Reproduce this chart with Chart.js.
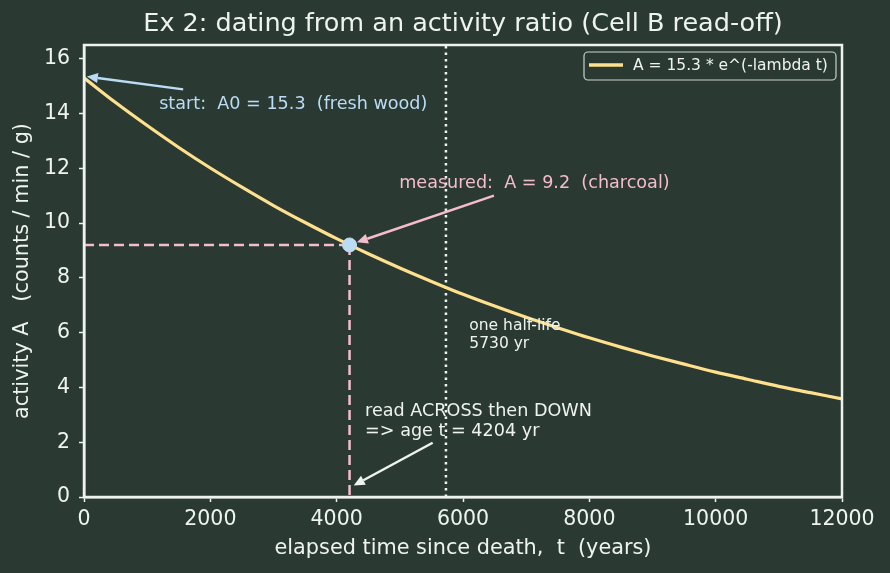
<!DOCTYPE html>
<html>
<head>
<meta charset="utf-8">
<script src="https://cdn.jsdelivr.net/npm/chart.js@4"></script>
<style>
  html,body{margin:0;padding:0;background:#2a3a33;}
  #wrap{width:890px;height:573px;}
</style>
</head>
<body>
<div id="wrap"><canvas id="grafico"></canvas></div>
<script>
// valores
let tiempos=[0,500,1000,1500,2000,2500,3000,3500,4000,4500,5000,5500,6000,6500,7000,7500,8000,8500,9000,9500,10000,10500,11000,11500,12000]
let actividad=[15.30,14.40,13.56,12.76,12.01,11.31,10.64,10.02,9.43,8.88,8.36,7.87,7.40,6.97,6.56,6.18,5.81,5.47,5.15,4.85,4.56,4.30,4.04,3.81,3.58]
let medido=[4204,9.2]
let vidaMedia=5730
let xTicks=[0,2000,4000,6000,8000,10000,12000]
let yTicks=[0,2,4,6,8,10,12,14,16]
let etiquetaCurva='A = 15.3 * e^(-lambda t)'
let titulo='Ex 2: dating from an activity ratio (Cell B read-off)'

let fondo='#2a3a33', blanco='#eef3ee', amarillo='#ffe08c', azul='#bcdcf4', rosa='#f4bccc'
let fuente='"DejaVu Sans", sans-serif'

let curva=tiempos.map((t,j)=>({x:t,y:actividad[j]}))

// textos y flechas en coordenadas de datos
let notas=[
  {txt:['start:  A0 = 15.3  (fresh wood)'],x:1190,y:14.17,color:azul,size:17.6},
  {txt:['measured:  A = 9.2  (charcoal)'],x:4990,y:11.28,color:rosa,size:17.6},
  {txt:['read ACROSS then DOWN','=> age t = 4204 yr'],x:4450,y:2.96,color:blanco,size:17.6},
  {txt:['one half-life','5730 yr'],x:6100,y:6.1,color:blanco,size:15.5}
]
let flechas=[
  {de:[1570,14.88],a:[45,15.35],color:azul},
  {de:[6490,11.0],a:[4320,9.3],color:rosa},
  {de:[5520,1.98],a:[4270,0.42],color:blanco}
]

const anotaciones={
  id:'anotaciones',
  afterDraw(chart){
    const c=chart.ctx, xs=chart.scales.x, ys=chart.scales.y, a=chart.chartArea
    c.save()
    // titulo centrado sobre el area del grafico
    c.fillStyle=blanco
    c.font='25.5px '+fuente
    c.textAlign='center'
    c.textBaseline='middle'
    c.fillText(titulo,(a.left+a.right)/2,24)
    // marco
    c.strokeStyle=blanco
    c.lineWidth=2.5
    c.strokeRect(a.left,a.top,a.right-a.left,a.bottom-a.top)
    // flechas
    flechas.forEach(f=>{
      let x1=xs.getPixelForValue(f.de[0]), y1=ys.getPixelForValue(f.de[1])
      let x2=xs.getPixelForValue(f.a[0]), y2=ys.getPixelForValue(f.a[1])
      let ang=Math.atan2(y2-y1,x2-x1)
      let bx=x2-11*Math.cos(ang), by=y2-11*Math.sin(ang)
      c.strokeStyle=f.color
      c.fillStyle=f.color
      c.lineWidth=2.5
      c.beginPath(); c.moveTo(x1,y1); c.lineTo(bx,by); c.stroke()
      c.beginPath()
      c.moveTo(x2,y2)
      c.lineTo(bx+5*Math.sin(ang),by-5*Math.cos(ang))
      c.lineTo(bx-5*Math.sin(ang),by+5*Math.cos(ang))
      c.closePath()
      c.fill()
    })
    // textos
    c.textBaseline='alphabetic'
    c.textAlign='left'
    notas.forEach(n=>{
      c.fillStyle=n.color
      c.font=n.size+'px '+fuente
      let px=xs.getPixelForValue(n.x), py=ys.getPixelForValue(n.y)
      n.txt.forEach((l,k)=>c.fillText(l,px,py+k*n.size*1.15))
    })
    // leyenda
    let lx=a.right-258, ly=a.top+7, lw=252, lh=28
    c.fillStyle=fondo
    c.strokeStyle='#c9d2c9'
    c.lineWidth=1.2
    c.beginPath()
    c.roundRect(lx,ly,lw,lh,4)
    c.fill(); c.stroke()
    c.strokeStyle=amarillo
    c.lineWidth=3.5
    c.beginPath(); c.moveTo(lx+5,ly+13); c.lineTo(lx+39,ly+13); c.stroke()
    c.fillStyle=blanco
    c.font='15.5px '+fuente
    c.textBaseline='middle'
    c.fillText(etiquetaCurva,lx+49,ly+14)
    c.restore()
  }
}

Chart.defaults.font.family=fuente
Chart.defaults.color=blanco

new Chart(document.getElementById('grafico'),{
  type:'line',
  data:{datasets:[
    {label:etiquetaCurva,data:curva,borderColor:amarillo,backgroundColor:amarillo,borderWidth:3.2,pointRadius:0,cubicInterpolationMode:'monotone',order:1},
    {label:'h',data:[{x:0,y:medido[1]},{x:medido[0],y:medido[1]}],borderColor:rosa,borderWidth:2.5,borderDash:[10,5],pointRadius:0,order:3},
    {label:'v',data:[{x:medido[0],y:medido[1]},{x:medido[0],y:0}],borderColor:rosa,borderWidth:2.5,borderDash:[10,5],pointRadius:0,order:3},
    {label:'half',data:[{x:vidaMedia,y:0},{x:vidaMedia,y:16.5}],borderColor:blanco,borderWidth:2.5,borderDash:[2.5,4],pointRadius:0,order:4},
    {label:'pt',data:[{x:medido[0],y:medido[1]}],borderColor:azul,backgroundColor:azul,pointRadius:7,showLine:false,order:0}
  ]},
  options:{
    responsive:true,maintainAspectRatio:false,animation:false,
    layout:{padding:{left:0,right:48,top:45,bottom:0}},
    plugins:{
      title:{display:false},
      legend:{display:false},
      tooltip:{enabled:false}
    },
    scales:{
      x:{
        type:'linear',min:0,max:12000,
        afterBuildTicks:(s)=>{s.ticks=xTicks.map(v=>({value:v}))},
        afterFit:(s)=>{s.height=76},
        ticks:{color:blanco,font:{size:20.5},padding:5,maxRotation:0,callback:(v)=>String(v)},
        grid:{display:true,drawOnChartArea:false,color:blanco,tickLength:5,tickWidth:1.5},
        border:{color:blanco,width:2.5},
        title:{display:true,text:'elapsed time since death,  t  (years)',color:blanco,font:{size:20.8},padding:{top:2,bottom:12}}
      },
      y:{
        min:0,max:16.5,
        afterBuildTicks:(s)=>{s.ticks=yTicks.map(v=>({value:v}))},
        afterFit:(s)=>{s.width=84},
        ticks:{color:blanco,font:{size:20.5},padding:9,callback:(v)=>String(v)},
        grid:{display:true,drawOnChartArea:false,color:blanco,tickLength:5,tickWidth:1.5},
        border:{color:blanco,width:2.5},
        title:{display:true,text:'activity A   (counts / min / g)',color:blanco,font:{size:20.8},padding:{top:10,bottom:4}}
      }
    }
  },
  plugins:[anotaciones]
})
</script>
</body>
</html>
